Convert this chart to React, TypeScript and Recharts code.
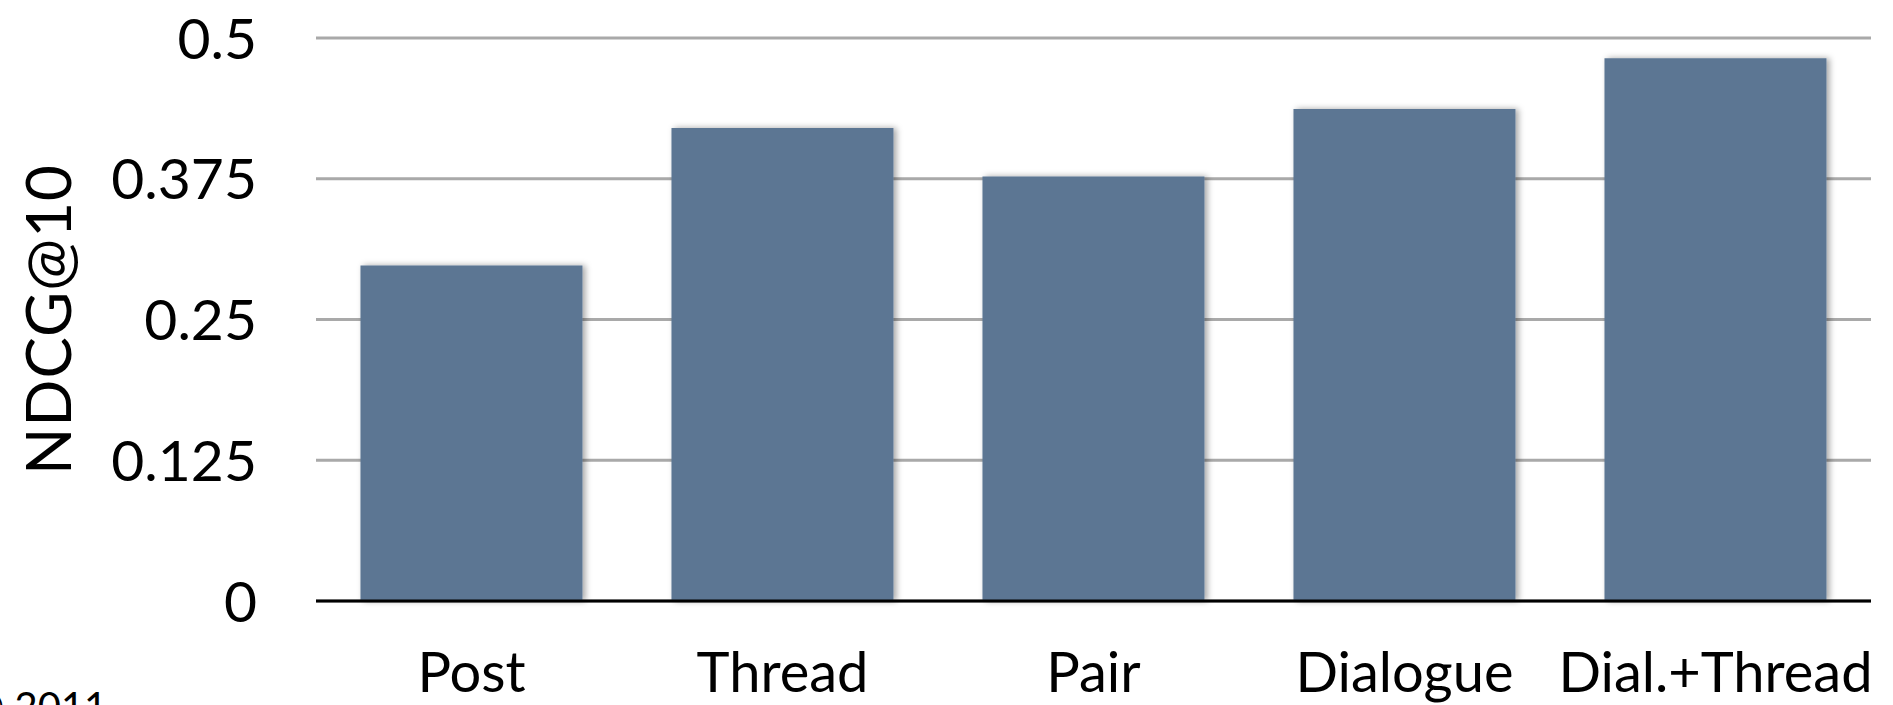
import React from 'react';
import { BarChart, Bar, XAxis, YAxis, CartesianGrid } from 'recharts';

const categorias = ['Post', 'Thread', 'Pair', 'Dialogue', 'Dial.+Thread'];
const ndcgValores = [0.298, 0.42, 0.377, 0.437, 0.482];
const yTicks = [0, 0.125, 0.25, 0.375, 0.5];

const fonte = 'Lato, "Open Sans", sans-serif';

const dados = categorias.map((nome, i) => ({ nome, ndcg: ndcgValores[i] }));

const XTick = (props: any) => {
  const { x, y, payload } = props;
  return (
    <text x={x} y={y + 91} textAnchor="middle" fontFamily={fonte} fontSize={56} fill="#000">
      {payload.value}
    </text>
  );
};

const YTick = (props: any) => {
  const { x, y, payload } = props;
  return (
    <text x={x} y={y} dy="0.36em" textAnchor="end" fontFamily={fonte} fontSize={57} fill="#000">
      {String(payload.value)}
    </text>
  );
};

const YLabel = (props: any) => {
  const { viewBox } = props;
  const cy = viewBox.y + viewBox.height / 2;
  const cx = 47;
  return (
    <text
      x={cx}
      y={cy}
      transform={`rotate(-90, ${cx}, ${cy})`}
      textAnchor="middle"
      dominantBaseline="central"
      fontFamily={fonte}
      fontSize={62}
      letterSpacing={1}
      fill="#000"
    >
      NDCG@10
    </text>
  );
};

export default function App() {
  return (
    <div style={{ position: 'absolute', left: 0, top: 0, width: 1893, height: 705, overflow: 'hidden', background: '#fff' }}>
      <BarChart
        width={1893}
        height={705}
        data={dados}
        margin={{ top: 38, right: 22, bottom: 0, left: 0 }}
        barCategoryGap="14.3%"
      >
        <defs>
          <filter id="sombra" x="-10%" y="-10%" width="125%" height="120%">
            <feDropShadow dx={3} dy={0} stdDeviation={3} floodColor="#000" floodOpacity={0.35} />
          </filter>
        </defs>
        <CartesianGrid vertical={false} stroke="#a9a9a9" strokeWidth={3} />
        <XAxis
          dataKey="nome"
          height={104}
          tickSize={0}
          tickMargin={0}
          tickLine={false}
          axisLine={{ stroke: '#000', strokeWidth: 3 }}
          tick={<XTick />}
          interval={0}
        />
        <YAxis
          width={316}
          domain={[0, 0.5]}
          ticks={yTicks}
          tickSize={0}
          tickMargin={59}
          tickLine={false}
          axisLine={false}
          tick={<YTick />}
          label={<YLabel />}
        />
        <Bar dataKey="ndcg" fill="#5b7693" filter="url(#sombra)" isAnimationActive={false} />
      </BarChart>
      <svg width={200} height={40} style={{ position: 'absolute', left: 0, top: 665 }}>
        <text x={-29} y={56} fontFamily={fonte} fontSize={40} fill="#000">
          © 2011
        </text>
      </svg>
    </div>
  );
}
